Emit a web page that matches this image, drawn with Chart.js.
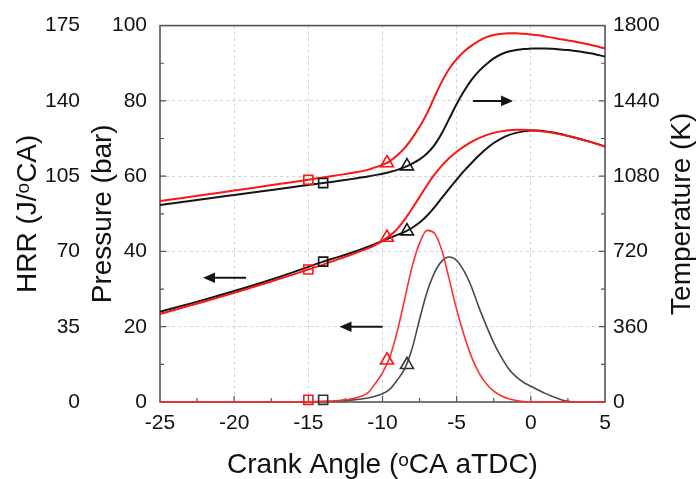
<!DOCTYPE html>
<html>
<head>
<meta charset="utf-8">
<script src="https://cdn.jsdelivr.net/npm/chart.js@4.4.0/dist/chart.umd.min.js"></script>
<style>
  html, body { margin: 0; padding: 0; background: #fff; }
</style>
</head>
<body>
<canvas id="engineChart" width="696" height="479"></canvas>
<script>
// crank angle samples (deg aTDC)
const angles = [-25, -22, -20, -18, -16, -15, -14, -13, -12, -11, -10.5, -10, -9.5, -9, -8.5, -8, -7.5, -7, -6.5, -6,
  -5.5, -5, -4.5, -4, -3.5, -3, -2.5, -2, -1.5, -1, -0.5, 0, 0.5, 1, 1.5, 2, 2.5, 3, 4, 5];

// in-cylinder temperature (K)
const tempRed = [961, 991, 1011, 1032, 1052, 1063, 1074, 1085, 1096, 1110, 1122, 1134, 1152, 1180, 1215, 1262, 1316, 1380, 1458, 1532,
  1594, 1640, 1676, 1704, 1727, 1745, 1755, 1760, 1763, 1763, 1761, 1758, 1754, 1748, 1742, 1735, 1729, 1723, 1708, 1691];
const tempBlack = [942, 971, 990, 1009, 1028, 1038, 1047, 1057, 1067, 1078, 1085, 1092, 1100, 1110, 1123, 1140, 1160, 1188, 1228, 1285,
  1355, 1425, 1487, 1540, 1582, 1615, 1643, 1663, 1676, 1683, 1688, 1690, 1691, 1691, 1689, 1686, 1683, 1679, 1668, 1652];

// cylinder pressure (bar)
const presRed = [23.4, 26.7, 29.0, 31.4, 33.9, 35.2, 36.5, 37.9, 39.3, 40.8, 41.7, 42.8, 44.2, 46.0, 48.5, 51.4, 54.5, 57.6, 60.4, 62.8,
  64.8, 66.5, 67.9, 69.1, 70.1, 70.9, 71.5, 71.9, 72.2, 72.3, 72.3, 72.2, 72.0, 71.8, 71.5, 71.1, 70.7, 70.2, 69.1, 67.9];
const presBlack = [24.0, 27.2, 29.5, 31.9, 34.5, 35.9, 37.3, 38.5, 39.8, 41.2, 42.0, 42.8, 43.6, 44.4, 45.2, 46.3, 47.7, 49.5, 51.7, 54.2,
  56.7, 59.1, 61.4, 63.5, 65.5, 67.3, 68.8, 70.0, 70.9, 71.5, 71.9, 72.1, 72.1, 71.9, 71.6, 71.2, 70.7, 70.2, 69.1, 67.9];

// heat release rate (J/deg CA)
const hrrRed = [0, 0, 0, 0, 0, 0.1, 0.3, 0.7, 1.6, 4.2, 8.5, 13.5, 21, 33, 48, 63, 74, 79.8, 78.5, 70.5,
  57, 43, 31, 21, 13.5, 8.5, 5, 2.9, 1.5, 0.7, 0.2, 0, 0, 0, 0, 0, 0, 0, 0, 0];
const hrrBlack = [0, 0, 0, 0, 0, 0.1, 0.2, 0.5, 1, 1.9, 2.7, 3.8, 6, 10.3, 15.5, 25, 38.5, 51, 60, 65.5,
  67.4, 65.8, 60.8, 53.5, 44, 35.5, 27.5, 21, 15.5, 11.8, 9.2, 7.3, 5.6, 3.9, 2.5, 1.2, 0.3, 0, 0, 0];

// open markers: square = start of injection, triangle = start of combustion
const markAnglesRed = [-15, -9.7];
const markAnglesBlack = [-14, -8.35];
const markTempRed = [1063, 1143];
const markTempBlack = [1047, 1128];
const markPresRed = [35.2, 43.7];
const markPresBlack = [37.3, 45.4];
const markHrrRed = [1.0, 19.4];
const markHrrBlack = [1.0, 17.3];

// direction arrows (which axis each curve group reads from)
const arrowAxes = ['yT', 'yP', 'yH'];
const arrowLevels = [1440, 33, 35];
const arrowFrom = [-3.9, -19.2, -10.0];
const arrowTo = [-1.2, -22.1, -12.9];

const RED = '#ff1414';
const BLACK = '#151515';
const FONT = "'Liberation Sans', Arial, sans-serif";

const toPoints = (xs, ys) => xs.map((x, i) => ({ x: x, y: ys[i] }));

function curve(values, axis, color, width) {
  return {
    data: toPoints(angles, values),
    yAxisID: axis,
    borderColor: color,
    borderWidth: width,
    pointRadius: 0,
    cubicInterpolationMode: 'monotone',
    fill: false,
    clip: 3,
  };
}

function marks(xs, ys, axis, color) {
  return {
    data: toPoints(xs, ys),
    yAxisID: axis,
    showLine: false,
    borderColor: color,
    backgroundColor: 'rgba(0,0,0,0)',
    borderWidth: 1.6,
    pointStyle: ['rect', 'triangle'],
    pointRadius: [6.4, 7.5],
    clip: 8,
  };
}

// frame and inward ticks, under the curves
const frameAndTicks = {
  id: 'frameAndTicks',
  beforeDatasetsDraw(chart) {
    const { ctx, chartArea: a, scales } = chart;
    ctx.save();
    ctx.strokeStyle = '#555';
    ctx.lineWidth = 1.6;
    ctx.strokeRect(a.left, a.top, a.right - a.left, a.bottom - a.top);
    ctx.lineWidth = 1.2;
    ctx.beginPath();
    for (let v = 10; v < 100; v += 10) {
      const y = scales.yP.getPixelForValue(v);
      const len = v % 20 === 0 ? 6 : 4;
      ctx.moveTo(a.left, y); ctx.lineTo(a.left + len, y);
      ctx.moveTo(a.right, y); ctx.lineTo(a.right - len, y);
    }
    for (let v = -22.5; v < 5; v += 2.5) {
      const x = scales.x.getPixelForValue(v);
      const len = v % 5 === 0 ? 6 : 4;
      ctx.moveTo(x, a.bottom); ctx.lineTo(x, a.bottom - len);
    }
    ctx.stroke();
    ctx.restore();
  },
  afterDatasetsDraw(chart) {
    const { ctx, scales } = chart;
    ctx.save();
    ctx.strokeStyle = BLACK;
    ctx.fillStyle = BLACK;
    ctx.lineWidth = 2;
    arrowAxes.forEach((axis, i) => {
      const y = scales[axis].getPixelForValue(arrowLevels[i]);
      const x0 = scales.x.getPixelForValue(arrowFrom[i]);
      const x1 = scales.x.getPixelForValue(arrowTo[i]);
      const dir = Math.sign(x1 - x0);
      ctx.beginPath();
      ctx.moveTo(x0, y);
      ctx.lineTo(x1 - dir * 8, y);
      ctx.stroke();
      ctx.beginPath();
      ctx.moveTo(x1, y);
      ctx.lineTo(x1 - dir * 12, y - 5.3);
      ctx.lineTo(x1 - dir * 12, y + 5.3);
      ctx.closePath();
      ctx.fill();
    });
    ctx.restore();
  },
  afterDraw(chart) {
    // right title reads bottom-to-top like the left ones
    const { ctx, chartArea: a } = chart;
    ctx.save();
    ctx.translate(chart.width - 6, (a.top + a.bottom) / 2);
    ctx.rotate(-Math.PI / 2);
    ctx.font = '28px ' + FONT;
    ctx.fillStyle = '#111';
    ctx.textAlign = 'center';
    ctx.textBaseline = 'alphabetic';
    ctx.fillText('Temperature (K)', 0, 0);
    ctx.restore();
  }
};

const dashedGrid = {
  display: true,
  drawTicks: false,
  lineWidth: 1,
  color: (c) => (c.index === 0 || c.index === c.scale.ticks.length - 1) ? 'rgba(0,0,0,0)' : '#d2d2d2',
};
const plainTick = (v) => String(v);

new Chart(document.getElementById('engineChart').getContext('2d'), {
  type: 'line',
  data: {
    datasets: [
      marks(markAnglesRed, markTempRed, 'yT', RED),
      marks(markAnglesBlack, markTempBlack, 'yT', BLACK),
      marks(markAnglesRed, markPresRed, 'yP', RED),
      marks(markAnglesBlack, markPresBlack, 'yP', BLACK),
      marks(markAnglesRed, markHrrRed, 'yH', RED),
      marks(markAnglesBlack, markHrrBlack, 'yH', '#333'),
      curve(tempRed, 'yT', RED, 2),
      curve(presRed, 'yP', RED, 2),
      curve(hrrRed, 'yH', '#ff3030', 1.6),
      curve(tempBlack, 'yT', BLACK, 2),
      curve(presBlack, 'yP', BLACK, 2),
      curve(hrrBlack, 'yH', '#4a4a4a', 1.6),
    ],
  },
  options: {
    responsive: false,
    animation: false,
    events: [],
    layout: { padding: { top: 16, left: 0, right: 0, bottom: 0 } },
    plugins: { legend: { display: false }, tooltip: { enabled: false } },
    scales: {
      x: {
        type: 'linear',
        min: -25, max: 5,
        border: { display: false, dash: [3, 3] },
        grid: dashedGrid,
        ticks: { stepSize: 5, padding: 9, color: '#111', font: { family: FONT, size: 21 }, callback: plainTick },
        title: { display: true, text: 'Crank Angle (ᵒCA aTDC)', color: '#111',
          font: { family: FONT, size: 28, lineHeight: 1 }, padding: { top: 0, bottom: 0 } },
        afterFit: (s) => { s.height = 77; },
      },
      yP: {
        position: 'left',
        weight: 0,
        min: 0, max: 100,
        border: { display: false, dash: [3, 3] },
        grid: dashedGrid,
        ticks: { stepSize: 20, padding: 13, color: '#111', font: { family: FONT, size: 21 }, callback: plainTick },
        title: { display: true, text: 'Pressure (bar)', color: '#111',
          font: { family: FONT, size: 28, lineHeight: 1 }, padding: { top: 4, bottom: 0 } },
        afterFit: (s) => { s.width = 75; },
      },
      yH: {
        position: 'left',
        weight: 1,
        min: 0, max: 175,
        border: { display: false },
        grid: { display: false, drawTicks: false },
        ticks: { stepSize: 35, padding: 5, color: '#111', font: { family: FONT, size: 21 }, callback: plainTick },
        title: { display: true, text: 'HRR (J/ᵒCA)', color: '#111',
          font: { family: FONT, size: 28, lineHeight: 1 }, padding: { top: 14, bottom: 0 } },
        afterFit: (s) => { s.width = 85; },
      },
      yT: {
        position: 'right',
        min: 0, max: 1800,
        border: { display: false },
        grid: { display: false, drawTicks: false },
        ticks: { stepSize: 360, padding: 8, color: '#111', font: { family: FONT, size: 21 }, callback: plainTick },
        afterFit: (s) => { s.width = 91; },
      },
    },
  },
  plugins: [frameAndTicks],
});
</script>
</body>
</html>
